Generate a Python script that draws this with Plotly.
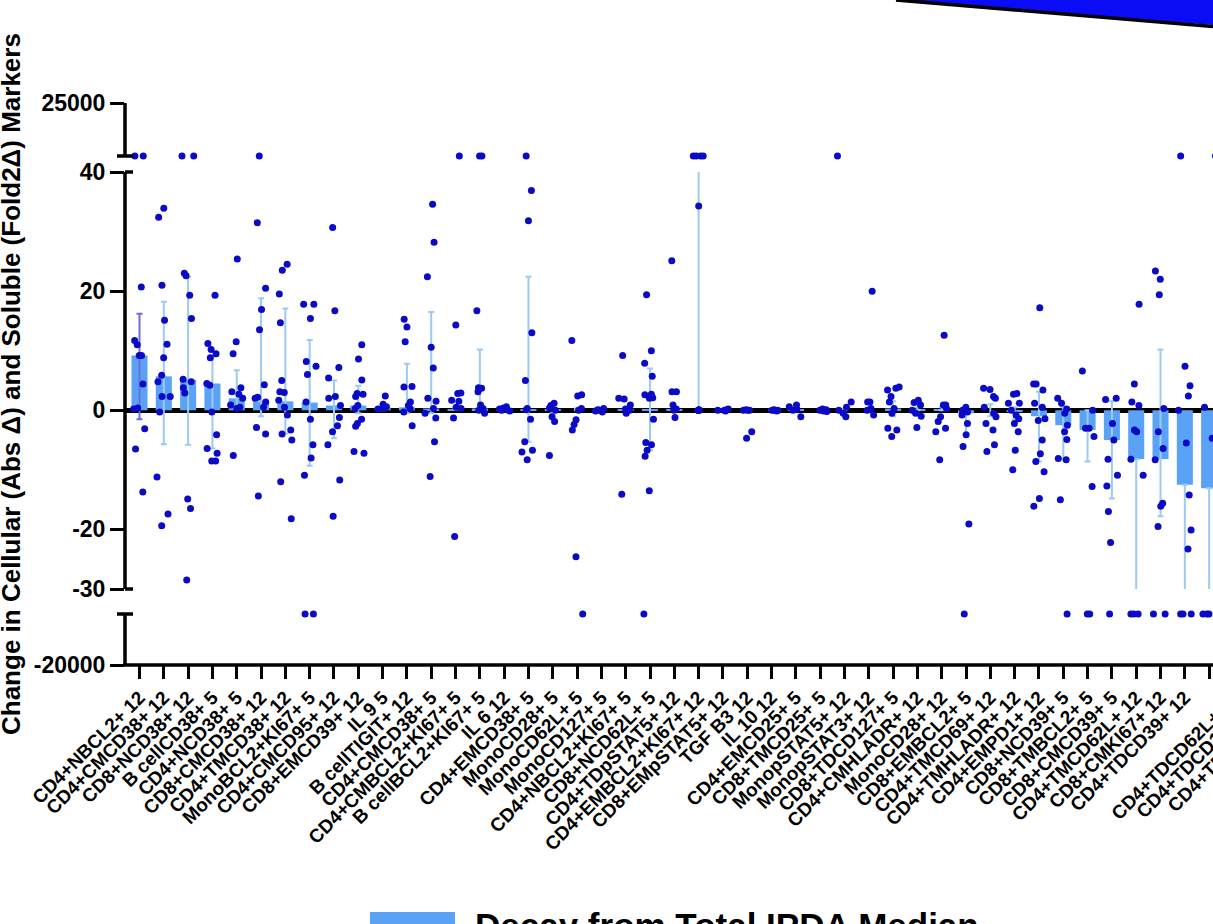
import plotly.graph_objects as go

# ---------------- data ----------------
categories = [
    "CD4+NBCL2+ 12", "CD4+CMCD38+ 12", "CD8+NCD38+ 12", "B cellCD38+ 5", "CD4+NCD38+ 5",
    "CD8+CMCD38+ 12", "CD4+TMCD38+ 12", "MonoBCL2+KI67+ 5", "CD4+CMCD95+ 12", "CD8+EMCD39+ 12",
    "IL 9 5", "B cellTIGIT+ 12", "CD4+CMCD38+ 5", "CD4+CMBCL2+KI67+ 5", "B cellBCL2+KI67+ 5",
    "IL 6 12", "CD4+EMCD38+ 5", "MonoCD28+ 5", "MonoCD62L+ 5", "MonoCD127+ 5",
    "CD4+NBCL2+KI67+ 5", "CD8+NCD62L+ 5", "CD4+TDpSTAT5+ 12", "CD4+EMBCL2+KI67+ 12", "CD8+EMpSTAT5+ 12",
    "TGF B3 12", "IL 10 12", "CD4+EMCD25+ 5", "CD8+TMCD25+ 5", "MonopSTAT5+ 12",
    "MonopSTAT3+ 12", "CD8+TDCD127+ 5", "CD4+CMHLADR+ 12", "MonoCD28+ 12", "CD8+EMBCL2+ 5",
    "CD4+TMCD69+ 12", "CD4+TMHLADR+ 12", "CD4+EMPD1+ 12", "CD8+NCD39+ 5", "CD8+TMBCL2+ 5",
    "CD8+CMCD39+ 5", "CD4+TMCD62L+ 12", "CD8+CMKI67+ 12", "CD4+TDCD39+ 12", "MonoCD39+ 12",
]
offscreen_labels = ["CD4+TDCD62L+ 12", "CD4+TDCD127+ 12", "CD4+TDTIGIT+ 12"]

medians = [9.2, 5.7, 5.1, 4.5, 2.0, 1.5, 1.5, 1.3, 0.8, 0.8, 0.5, 0.5, 0.3, 0.2, 0.3,
           0.2, 0.1, 0.2, 0.0, 0.0, 0.1, 0.2, 0.1, 0.0, 0.0, 0.0, 0.0, 0.1, 0.0, 0.0,
           0.0, 0.3, 0.2, 0.1, -0.5, 0.0, -0.3, -1.0, -2.5, -3.3, -5.0, -8.2, -8.2, -12.5, -13.1]
err_low = [-1.5, -5.7, -5.8, -6.4, 0.5, -1.0, -3.9, -9.3, -4.7, -0.5, 0.0, -0.5, -0.5, 0.2, 0.0,
           0.0, -5.3, -0.5, 0.0, 0.0, 0.0, -6.7, 0.0, 0.0, 0.0, 0.0, 0.0, 0.0, 0.0, 0.0,
           0.0, -1.0, 0.0, 0.0, -4.3, -1.0, -1.5, -8.6, -8.2, -8.6, -14.8, -40.0, -17.8, -40.0, -40.0]
err_high = [16.2, 18.2, 22.4, 9.0, 6.7, 18.8, 17.1, 11.8, 5.0, 4.1, 1.0, 7.8, 16.5, 0.5, 10.2,
            0.3, 22.4, 0.5, 0.3, 0.1, 0.5, 7.0, 0.5, 45.0, 0.1, 0.1, 0.1, 0.3, 0.1, 0.2,
            0.3, 1.5, 0.5, 0.5, 0.3, 1.0, 0.5, 3.1, 0.5, 0.0, 1.5, -8.2, 10.2, -12.5, -13.1]

# individual values per marker (150 / -150 = off-scale values drawn on the broken segments)
points_by_marker = [
    [150, 150, 20.7, 11.7, 11.0, 9.2, 9.2, 4.4, 0.4, 0.2, -3.1, -6.5, -13.7],
    [33.9, 32.4, 21.0, 15.1, 11.1, 8.8, 5.9, 4.8, 2.3, 2.3, -0.3, -11.2, -17.4, -19.4],
    [150, 150, 23.0, 22.6, 19.3, 15.4, 5.2, 4.8, 3.8, 2.9, -14.9, -16.5, -28.5],
    [19.3, 11.2, 10.2, 9.5, 8.8, 4.5, 4.2, -0.3, -4.1, -6.4, -7.2, -8.5, -8.5],
    [25.4, 11.5, 9.5, 3.8, 3.1, 2.7, 2.0, 0.9, 0.5, 0.3, -7.6],
    [150, 31.5, 20.5, 16.9, 13.5, 4.3, 2.2, 2.0, 1.4, 0.5, -2.9, -4.0, -14.4],
    [24.5, 23.5, 19.5, 14.7, 5.0, 3.1, 3.0, 1.7, 0.5, -0.8, -3.3, -4.0, -5.0, -12.0, -18.2],
    [17.8, 17.8, 15.4, 8.2, 7.4, 6.0, 1.4, -1.5, -5.8, -8.0, -10.9, -150, -150],
    [30.7, 16.7, 7.2, 5.4, 2.3, 2.0, 0.8, -1.2, -2.6, -3.6, -5.8, -11.7, -17.8],
    [11.0, 8.6, 5.1, 2.8, 2.7, 2.3, 0.8, 0.3, -1.5, -2.2, -2.7, -6.9, -7.2],
    [2.4, 1.0, 0.6, 0.4, 0.2],
    [15.3, 14.0, 11.5, 4.0, 3.9, 1.4, 0.8, 0.3, -0.3, -2.6],
    [34.6, 28.2, 22.4, 10.6, 7.1, 2.0, 1.5, 0.3, -0.5, -1.3, -5.3, -11.1],
    [150, 14.3, 2.9, 2.8, 1.7, 1.5, 0.5, 0.3, -1.3, -21.2],
    [150, 150, 16.7, 3.8, 3.7, 3.1, 0.9, 0.3, 0.0, -0.5],
    [0.6, 0.4, 0.2, 0.1, 0.0, -0.1],
    [150, 36.9, 31.8, 13.0, 5.0, 0.3, 0.1, -1.5, -5.3, -6.7, -7.0, -8.3],
    [1.2, 0.8, 0.4, 0.0, -1.1, -1.9, -7.6],
    [11.7, 2.6, 2.4, 0.3, 0.0, -1.6, -2.4, -3.3, -24.6, -150],
    [0.3, 0.1, 0.0, -0.1, -0.3],
    [9.2, 2.0, 1.9, 0.9, 0.2, 0.0, -0.5, -14.1],
    [19.4, 10.0, 7.9, 5.7, 2.7, 2.6, 2.1, 2.0, -1.5, -5.4, -5.8, -6.7, -7.7, -13.5, -150],
    [25.1, 3.1, 3.1, 0.9, 0.2, 0.0, -1.2],
    [150, 150, 150, 150, 34.3, 0.1, 0.0, 0.0, 0.0, 0.0, 0.0],
    [0.2, 0.1, 0.0, 0.0, -0.1],
    [0.1, 0.0, 0.0, 0.0, -3.6, -4.7],
    [0.1, 0.0, 0.0, 0.0, -0.1],
    [0.9, 0.6, 0.2, 0.0, -1.1],
    [0.2, 0.1, 0.0, -0.1, -0.2],
    [150, 1.4, 0.5, 0.0, -0.5, -1.1],
    [20.0, 1.4, 1.4, 0.3, 0.0, -0.8],
    [3.9, 3.7, 3.4, 2.3, 1.4, 0.3, -0.5, -3.0, -3.3, -4.4],
    [1.7, 1.3, 0.9, 0.0, -0.5, -1.0, -2.9],
    [12.6, 0.9, 0.9, 0.3, -1.1, -1.9, -3.0, -3.6, -8.3],
    [0.5, 0.0, -0.3, -0.8, -2.2, -4.1, -6.1, -19.1, -150],
    [3.7, 3.5, 2.3, 2.0, 0.5, -0.5, -1.1, -2.2, -3.3, -5.8, -6.9],
    [2.8, 2.7, 1.2, 1.2, 0.0, -0.8, -1.4, -2.2, -3.6, -6.7, -10.0],
    [17.2, 4.4, 4.4, 3.4, 1.2, 0.5, -1.4, -1.7, -5.0, -7.3, -8.6, -10.3, -14.8, -16.1],
    [2.0, 1.2, 0.2, -0.5, -2.5, -3.6, -4.9, -8.1, -8.3, -15.0, -150],
    [6.6, 0.0, -3.0, -3.0, -4.4, -12.8, -150, -150],
    [2.0, 1.8, -2.2, -5.0, -8.2, -10.9, -12.7, -17.0, -22.2, -150],
    [17.8, 4.4, 1.4, 0.8, -3.3, -3.6, -8.2, -10.9, -150, -150, -150],
    [23.4, 22.0, 19.4, 0.3, -3.6, -6.4, -8.3, -15.6, -16.1, -19.5, -150, -150],
    [150, 7.4, 4.1, 2.4, 0.0, -5.5, -14.2, -20.1, -23.3, -150, -150, -150],
    [150, 0.5, -4.7, -150, -150, -150],
]

y_ticks_mid = [40, 20, 0, -20, -30]
y_tick_top = 25000
y_tick_bottom = -20000
legend_label = "Decay from Total IPDA Median"
y_title = "Change in Cellular (Abs \u0394) and Soluble (Fold2\u0394) Markers"

# ---------------- layout geometry ----------------
W, H = 1213, 924
ML, MR, MT, MB = 125, 0, 0, 259
PW, PH = W - ML - MR, H - MT - MB
X0, DX = 139.5, 24.31          # pixel of first category and spacing


def pyp(py):
    return (H - MB - py) / PH


def pxp(px):
    return (px - ML) / PW


MID_LO, MID_HI = -30, 40
OVER_HI, OVER_LO = 150, -150
# upper segment: 25000 at px 103, off-scale values at px 156, domain down to 166
up_top, up_pts, up_bot = 103, 156, 166
up_lo = y_tick_top - (y_tick_top - OVER_HI) * (up_bot - up_top) / (up_pts - up_top)
# lower segment: -20000 at px 665, off-scale values at px 614, domain up to 604
lo_bot, lo_pts, lo_top = 665, 614, 604
lo_hi = y_tick_bottom + (OVER_LO - y_tick_bottom) * (lo_bot - lo_top) / (lo_bot - lo_pts)

BAR = "#5AA2F6"
ERR = "#9DCAF3"
DOT = "#0B0BC6"
FONT = "Arial, Liberation Sans, sans-serif"

n = len(categories)
xs = list(range(n))

fig = go.Figure()

# bars with error bars (first bar has a darker error bar)
fig.add_trace(go.Bar(
    x=xs[1:], y=medians[1:], width=0.66, marker=dict(color=BAR, line=dict(width=0)),
    error_y=dict(type="data", symmetric=False,
                 array=[h - m for h, m in zip(err_high[1:], medians[1:])],
                 arrayminus=[m - l for m, l in zip(medians[1:], err_low[1:])],
                 color=ERR, thickness=2, width=3),
    xaxis="x", yaxis="y2", showlegend=False, hoverinfo="skip"))
fig.add_trace(go.Bar(
    x=xs[:1], y=medians[:1], width=0.66, marker=dict(color=BAR, line=dict(width=0)),
    error_y=dict(type="data", symmetric=False,
                 array=[err_high[0] - medians[0]], arrayminus=[medians[0] - err_low[0]],
                 color="#6E6ED8", thickness=2, width=3),
    xaxis="x", yaxis="y2", showlegend=False, hoverinfo="skip"))

# individual points split over the three axis segments
seg = {"y2": ([], []), "y3": ([], []), "y": ([], [])}
for k, vals in enumerate(points_by_marker):
    for v in vals:
        key = "y3" if v > MID_HI else ("y" if v < MID_LO else "y2")
        seg[key][0].append(k)
        seg[key][1].append(v)

for key, (px_, py_) in seg.items():
    fig.add_trace(go.Box(
        x=px_, y=py_, boxpoints="all", jitter=0.85, pointpos=0, width=0.7,
        fillcolor="rgba(0,0,0,0)", line=dict(width=0, color="rgba(0,0,0,0)"),
        whiskerwidth=0, marker=dict(color=DOT, size=7, line=dict(width=0)),
        xaxis="x", yaxis=key, showlegend=False, hoverinfo="skip"))

tickfont = dict(family=FONT, size=23, color="black", weight="bold")
common_y = dict(showgrid=False, showline=False, ticks="outside", ticklen=14, tickwidth=3,
                tickcolor="black", tickfont=tickfont, fixedrange=True, automargin=False)

fig.update_layout(
    width=W, height=H, autosize=False, margin=dict(l=ML, r=MR, t=MT, b=MB, pad=0, autoexpand=False),
    paper_bgcolor="white", plot_bgcolor="white", barmode="overlay", boxmode="overlay",
    showlegend=False,
    xaxis=dict(anchor="y", range=[(ML - X0) / DX, (W - MR - X0) / DX],
               tickvals=xs, ticktext=categories, tickangle=-45,
               tickfont=dict(family=FONT, size=19, color="black", weight="bold"),
               ticks="outside", ticklen=13, tickwidth=3, tickcolor="black",
               showgrid=False, zeroline=False, showline=False, fixedrange=True,
               automargin=False),
    yaxis=dict(domain=[pyp(lo_bot), pyp(lo_top)], range=[y_tick_bottom, lo_hi],
               tickvals=[y_tick_bottom], ticktext=[str(y_tick_bottom)], zeroline=False, **common_y),
    yaxis2=dict(domain=[pyp(589), pyp(172)], range=[MID_LO, MID_HI], anchor="x",
                tickvals=y_ticks_mid, ticktext=[str(t) for t in y_ticks_mid],
                zeroline=True, zerolinecolor="black", zerolinewidth=4.5, **common_y),
    yaxis3=dict(domain=[pyp(up_bot), pyp(up_top)], range=[up_lo, y_tick_top], anchor="x",
                tickvals=[y_tick_top], ticktext=[str(y_tick_top)], zeroline=False, **common_y),
)

# axis line segments and break caps
LW = 3.5
shapes = []
for a, b in [(up_top, up_pts), (172, 589), (lo_pts, lo_bot)]:
    shapes.append(dict(type="line", xref="paper", yref="paper", x0=0, x1=0,
                       y0=pyp(a), y1=pyp(b), line=dict(color="black", width=LW)))
for py, x_left in [(up_pts, 117), (172, 125), (589, 125), (lo_pts, 117)]:
    shapes.append(dict(type="line", xref="paper", yref="paper", x0=pxp(x_left), x1=pxp(133),
                       y0=pyp(py), y1=pyp(py), line=dict(color="black", width=LW)))
shapes.append(dict(type="line", xref="paper", yref="paper", x0=pxp(ML - 1.7), x1=1.0,
                   y0=pyp(lo_bot), y1=pyp(lo_bot), line=dict(color="black", width=LW)))
# blue wedge at top right (part of a graphic cut by the frame)
shapes.append(dict(type="path", xref="paper", yref="paper",
                   path=f"M {pxp(896)} {pyp(0)} L {pxp(W)} {pyp(25)} L {pxp(W)} {pyp(0)} Z",
                   fillcolor="#0C0CF4", line=dict(width=0)))
shapes.append(dict(type="line", xref="paper", yref="paper", x0=pxp(896), y0=pyp(0),
                   x1=pxp(W), y1=pyp(26.5), line=dict(color="black", width=3.5)))
# legend swatch
shapes.append(dict(type="rect", xref="paper", yref="paper", x0=pxp(370), x1=pxp(455),
                   y0=pyp(935), y1=pyp(912), fillcolor=BAR, line=dict(width=0)))
fig.update_layout(shapes=shapes)

annotations = [
    dict(text=f"<b>{y_title}</b>", xref="paper", yref="paper", x=pxp(11), y=pyp(384),
         xanchor="center", yanchor="middle", textangle=-90, showarrow=False,
         font=dict(family=FONT, size=26, color="black")),
    dict(text=f"<b>{legend_label}</b>", xref="paper", yref="paper", x=pxp(473), y=pyp(904),
         xanchor="left", yanchor="top", showarrow=False,
         font=dict(family=FONT, size=35, color="black")),
]
for i, lab in enumerate(offscreen_labels):
    tick_px = X0 + DX * (n + i)
    annotations.append(dict(text=f"<b>{lab}</b>", xref="paper", yref="paper",
                            x=pxp(tick_px + 13), y=pyp(684), xanchor="right", yanchor="top",
                            textangle=-45, showarrow=False,
                            font=dict(family=FONT, size=19, color="black")))
fig.update_layout(annotations=annotations)

page_fix = (
    "document.documentElement.style.margin='0px';"
    "document.body.style.margin='0px';"
    "document.documentElement.style.overflow='hidden';"
    "document.body.style.overflow='hidden';"
    "var gd=document.getElementById('{plot_id}');"
    "gd.style.position='absolute';gd.style.left='0px';gd.style.top='0px';"
)
fig.write_html("out.html", config={"displayModeBar": False}, post_script=page_fix)
